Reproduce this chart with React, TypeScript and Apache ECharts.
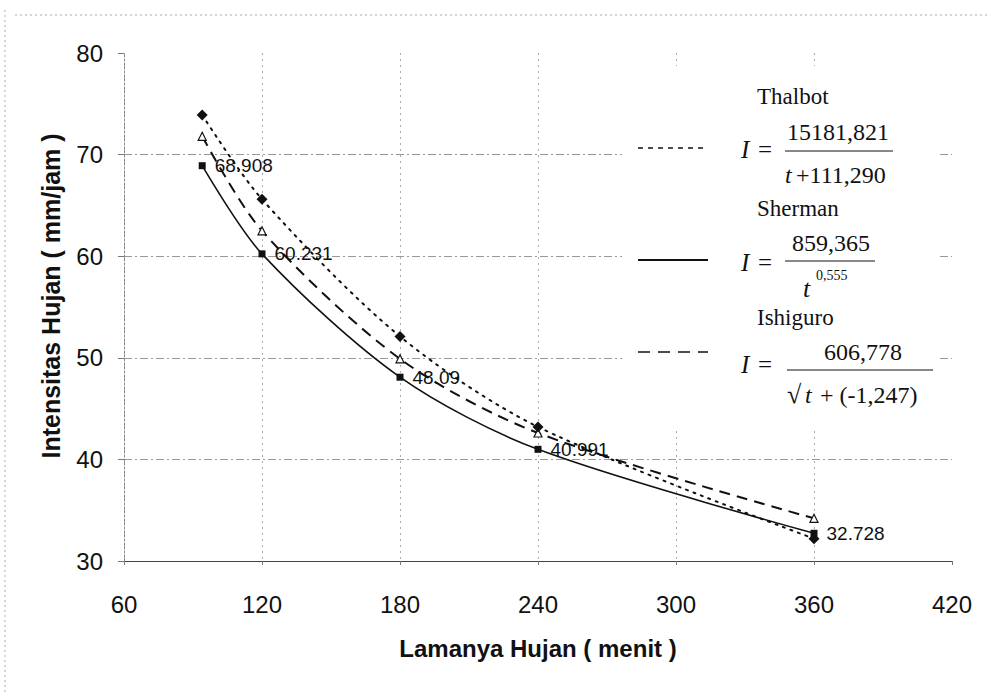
import React, { useEffect, useRef } from "react";
import * as echarts from "echarts";

// Rain duration (minutes) and intensity (mm/jam) for the three IDF formulas
const durations = [94, 120, 180, 240, 360];
const sherman = [68.908, 60.231, 48.09, 40.991, 32.728];
const thalbot = [73.9, 65.6, 52.1, 43.2, 32.2];
const ishiguro = [71.8, 62.5, 49.9, 42.6, 34.2];

const xTicks = [60, 120, 180, 240, 300, 360, 420];
const yTicks = [30, 40, 50, 60, 70, 80];

const SANS = '"Liberation Sans", Arial, sans-serif';
const SERIF = '"Liberation Serif", "Times New Roman", serif';

const pairs = (ys: number[]) => durations.map((x, i) => [x, ys[i]]);

function txt(
  text: string,
  x: number,
  y: number,
  size: number,
  align: string = "left",
  italic = false
) {
  return {
    type: "text",
    z: 10,
    style: {
      text,
      x,
      y,
      fill: "#111",
      font: `${italic ? "italic " : ""}${size}px ${SERIF}`,
      align,
      verticalAlign: "middle",
      textAlign: align,
      textVerticalAlign: "middle",
    },
  };
}

function hline(x1: number, x2: number, y: number, dash: any, width = 1.5) {
  return {
    type: "line",
    z: 10,
    shape: { x1, y1: y, x2, y2: y },
    style: { stroke: "#111", lineWidth: width, lineDash: dash },
  };
}

export default function App() {
  const ref = useRef<HTMLDivElement>(null);

  useEffect(() => {
    document.body.style.margin = "0";
    const chart = echarts.init(ref.current!, null, { renderer: "svg" });

    const graphic: any[] = [
      // chart-area frame (dotted)
      {
        type: "line",
        shape: { x1: 15, y1: 15, x2: 987, y2: 15 },
        style: { stroke: "#aaa", lineWidth: 1, lineDash: [2, 3] },
      },
      {
        type: "line",
        shape: { x1: 5, y1: 10, x2: 5, y2: 693 },
        style: { stroke: "#aaa", lineWidth: 1, lineDash: [2, 3] },
      },
      // y-axis title
      {
        type: "text",
        x: 51,
        y: 296,
        rotation: Math.PI / 2,
        style: {
          text: "Intensitas Hujan ( mm/jam )",
          fill: "#111",
          font: `bold 25px ${SANS}`,
          align: "center",
          verticalAlign: "middle",
          textAlign: "center",
          textVerticalAlign: "middle",
        },
      },
      // legend box
      {
        type: "rect",
        z: 1,
        shape: { x: 622, y: 66, width: 318, height: 362 },
        style: { fill: "#fff", stroke: "none" },
      },
      // Thalbot
      txt("Thalbot", 757, 96, 23),
      hline(638, 708, 148, [5, 5]),
      txt("I", 741, 149, 25, "left", true),
      txt("=", 758, 149, 25),
      txt("15181,821", 838, 132, 24, "center"),
      hline(785, 893, 151, null, 1),
      txt("t", 785, 175, 24, "left", true),
      txt("+111,290", 796, 175, 24),
      // Sherman
      txt("Sherman", 757, 208, 23),
      hline(638, 708, 260, null, 2),
      txt("I", 741, 262, 25, "left", true),
      txt("=", 758, 262, 25),
      txt("859,365", 831, 243, 24, "center"),
      hline(785, 875, 261, null, 1),
      txt("t", 803, 288, 26, "left", true),
      txt("0,555", 816, 275, 14),
      // Ishiguro
      txt("Ishiguro", 757, 317, 23),
      hline(638, 708, 352, [12, 8]),
      txt("I", 741, 364, 25, "left", true),
      txt("=", 758, 364, 25),
      txt("606,778", 863, 352, 24, "center"),
      hline(787, 933, 370, null, 1),
      txt("√", 787, 394, 26),
      txt("t", 805, 395, 24, "left", true),
      txt("+ (-1,247)", 820, 395, 24),
    ];

    chart.setOption({
      animation: false,
      backgroundColor: "#fff",
      grid: { left: 124, right: 35, top: 53, bottom: 132 },
      xAxis: {
        type: "value",
        min: xTicks[0],
        max: xTicks[xTicks.length - 1],
        interval: 60,
        name: "Lamanya Hujan ( menit )",
        nameLocation: "middle",
        nameGap: 75,
        nameTextStyle: {
          fontFamily: SANS,
          fontWeight: "bold",
          fontSize: 24,
          color: "#111",
        },
        axisLine: { lineStyle: { color: "#444", width: 1.2 } },
        axisTick: { length: 4, lineStyle: { color: "#777" } },
        axisLabel: {
          fontFamily: SANS,
          fontSize: 24,
          color: "#111",
          margin: 31,
        },
        splitLine: {
          show: true,
          showMaxLine: false,
          lineStyle: { color: "#aaa", type: [2, 4], width: 1 },
        },
      },
      yAxis: {
        type: "value",
        min: yTicks[0],
        max: yTicks[yTicks.length - 1],
        interval: 10,
        axisLine: {
          show: true,
          lineStyle: { color: "#888", type: [2, 2], width: 1 },
        },
        axisTick: {
          show: true,
          length: 6,
          lineStyle: { color: "#777" },
        },
        axisLabel: {
          fontFamily: SANS,
          fontSize: 24,
          color: "#111",
          margin: 21,
        },
        splitLine: {
          show: true,
          showMaxLine: false,
          lineStyle: { color: "#999", type: [8, 3, 2, 3], width: 1 },
        },
      },
      series: [
        {
          name: "Sherman",
          type: "line",
          data: pairs(sherman),
          smooth: 0.3,
          symbol: "rect",
          symbolSize: 7,
          itemStyle: { color: "#111" },
          lineStyle: { color: "#111", width: 1.6, type: "solid" },
          label: {
            show: true,
            position: "right",
            distance: 9,
            fontFamily: SANS,
            fontSize: 19,
            color: "#111",
            formatter: (p: any) => String(p.value[1]),
          },
          z: 3,
        },
        {
          name: "Ishiguro",
          type: "line",
          data: pairs(ishiguro),
          smooth: 0.3,
          symbol: "triangle",
          symbolSize: 8,
          itemStyle: { color: "#fff", borderColor: "#111", borderWidth: 1.2 },
          lineStyle: { color: "#111", width: 2, type: [11, 7] },
          z: 4,
        },
        {
          name: "Thalbot",
          type: "line",
          data: pairs(thalbot),
          smooth: 0.3,
          symbol: "diamond",
          symbolSize: 11,
          itemStyle: { color: "#111" },
          lineStyle: { color: "#111", width: 2, type: [2, 6], cap: "round" },
          z: 5,
        },
      ],
      graphic,
    });

    return () => chart.dispose();
  }, []);

  return <div ref={ref} style={{ width: 987, height: 693 }} />;
}
